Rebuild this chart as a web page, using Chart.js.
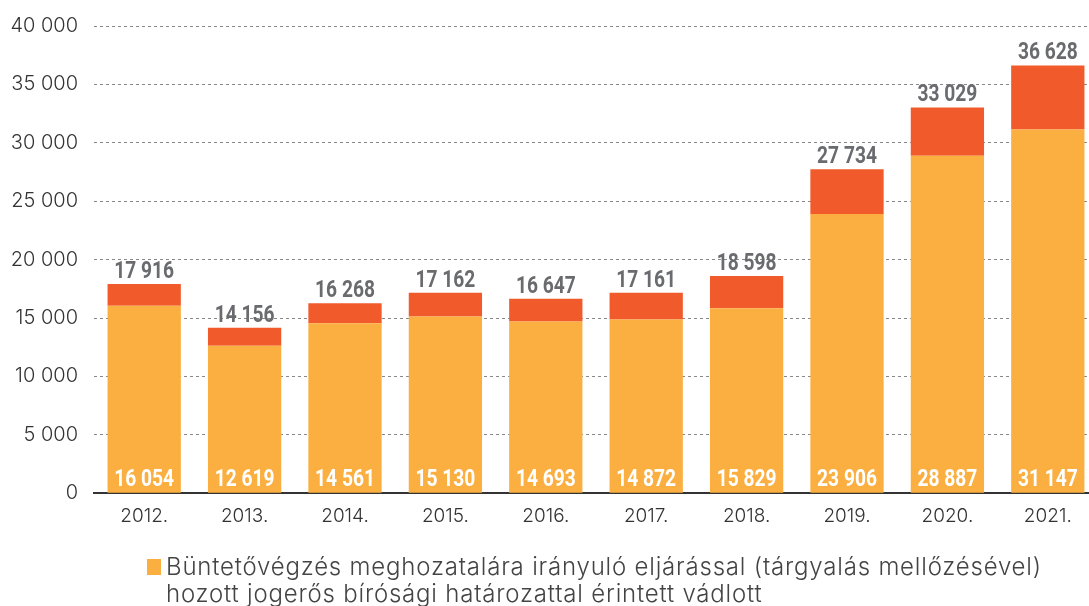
<!DOCTYPE html>
<html>
<head>
<meta charset="utf-8">
<script src="https://cdn.jsdelivr.net/npm/chart.js@4/dist/chart.umd.min.js"></script>
<style>
  html, body { margin: 0; padding: 0; background: #fff; overflow: hidden; }
  #wrap { width: 1098px; height: 606px; position: relative; }
</style>
</head>
<body>
<div id="wrap"><canvas id="myChart"></canvas></div>
<script>
// years on the x axis
var labels = ['2012.', '2013.', '2014.', '2015.', '2016.', '2017.', '2018.', '2019.', '2020.', '2021.'];
// lower (orange) part of each bar
var vegzes = [16054, 12619, 14561, 15130, 14693, 14872, 15829, 23906, 28887, 31147];
// totals printed above the bars
var totals = [17916, 14156, 16268, 17162, 16647, 17161, 18598, 27734, 33029, 36628];
// upper (red) part = total minus the lower part
var egyeb = totals.map(function (t, i) { return t - vegzes[i]; });

var legendLines = [
    'Büntetővégzés meghozatalára irányuló eljárással (tárgyalás mellőzésével)',
    'hozott jogerős bírósági határozattal érintett vádlott'
];

function fmt(n) {
    return String(n).replace(/\B(?=(\d{3})+(?!\d))/g, ' ');
}

var labelFont = 'bold 24px Roboto, "DejaVu Sans", sans-serif';

// condensed look: squeeze the text horizontally
function squeezed(ctx, text, x, y) {
    ctx.save();
    ctx.translate(x, y);
    ctx.scale(0.8, 1);
    ctx.fillText(text, 0, 0);
    ctx.restore();
}

// numbers on the bars
var barLabels = {
    id: 'barLabels',
    afterDatasetsDraw: function (chart) {
        var ctx = chart.ctx;
        var low = chart.getDatasetMeta(0).data;
        var high = chart.getDatasetMeta(1).data;
        ctx.save();
        ctx.font = labelFont;
        ctx.textAlign = 'center';
        ctx.textBaseline = 'alphabetic';
        for (var i = 0; i < low.length; i++) {
            ctx.fillStyle = '#ffffff';
            squeezed(ctx, fmt(vegzes[i]), low[i].x, chart.chartArea.bottom - 7);
            ctx.fillStyle = '#6a6b6e';
            squeezed(ctx, fmt(totals[i]), high[i].x, high[i].y - 6);
        }
        ctx.restore();
    }
};

// legend under the chart (two lines, only the orange series)
var bottomLegend = {
    id: 'bottomLegend',
    afterDraw: function (chart) {
        var ctx = chart.ctx;
        ctx.save();
        ctx.fillStyle = '#fbaf41';
        ctx.fillRect(147, 559, 14, 16);
        ctx.fillStyle = '#444444';
        ctx.font = '300 24px Inter, "Open Sans", sans-serif';
        ctx.letterSpacing = '0.8px';
        ctx.textAlign = 'left';
        ctx.textBaseline = 'alphabetic';
        ctx.fillText(legendLines[0], 166, 575);
        ctx.fillText(legendLines[1], 166, 602);
        ctx.restore();
    }
};

var ctx = document.getElementById('myChart').getContext('2d');
var chart = new Chart(ctx, {
    type: 'bar',
    data: {
        labels: labels,
        datasets: [{
            label: legendLines.join(' '),
            data: vegzes,
            backgroundColor: '#fbaf41',
            barPercentage: 0.73,
            categoryPercentage: 1
        }, {
            label: 'Egyéb',
            data: egyeb,
            backgroundColor: '#f15a2b',
            barPercentage: 0.73,
            categoryPercentage: 1
        }]
    },
    options: {
        responsive: true,
        maintainAspectRatio: false,
        animation: false,
        layout: { padding: { top: 16, right: 0, left: 0, bottom: 66 } },
        plugins: {
            legend: { display: false },
            tooltip: { enabled: false }
        },
        scales: {
            x: {
                stacked: true,
                grid: { display: false, drawTicks: false },
                border: { display: true, color: '#333333', width: 2 },
                ticks: {
                    color: '#333333',
                    padding: 12,
                    font: { family: 'Inter, "Open Sans", sans-serif', size: 19, weight: 300 }
                }
            },
            y: {
                stacked: true,
                min: 0,
                max: 40000,
                afterFit: function (scale) { scale.width = 94; },
                grid: { color: '#888888', drawTicks: false, lineWidth: 1 },
                border: { display: false, dash: [3, 3] },
                ticks: {
                    stepSize: 5000,
                    color: '#333333',
                    padding: 16,
                    font: { family: 'Inter, "Open Sans", sans-serif', size: 20, weight: 300, lineHeight: 1 },
                    callback: function (v) { return fmt(v); }
                }
            }
        }
    },
    plugins: [barLabels, bottomLegend]
});
</script>
</body>
</html>
